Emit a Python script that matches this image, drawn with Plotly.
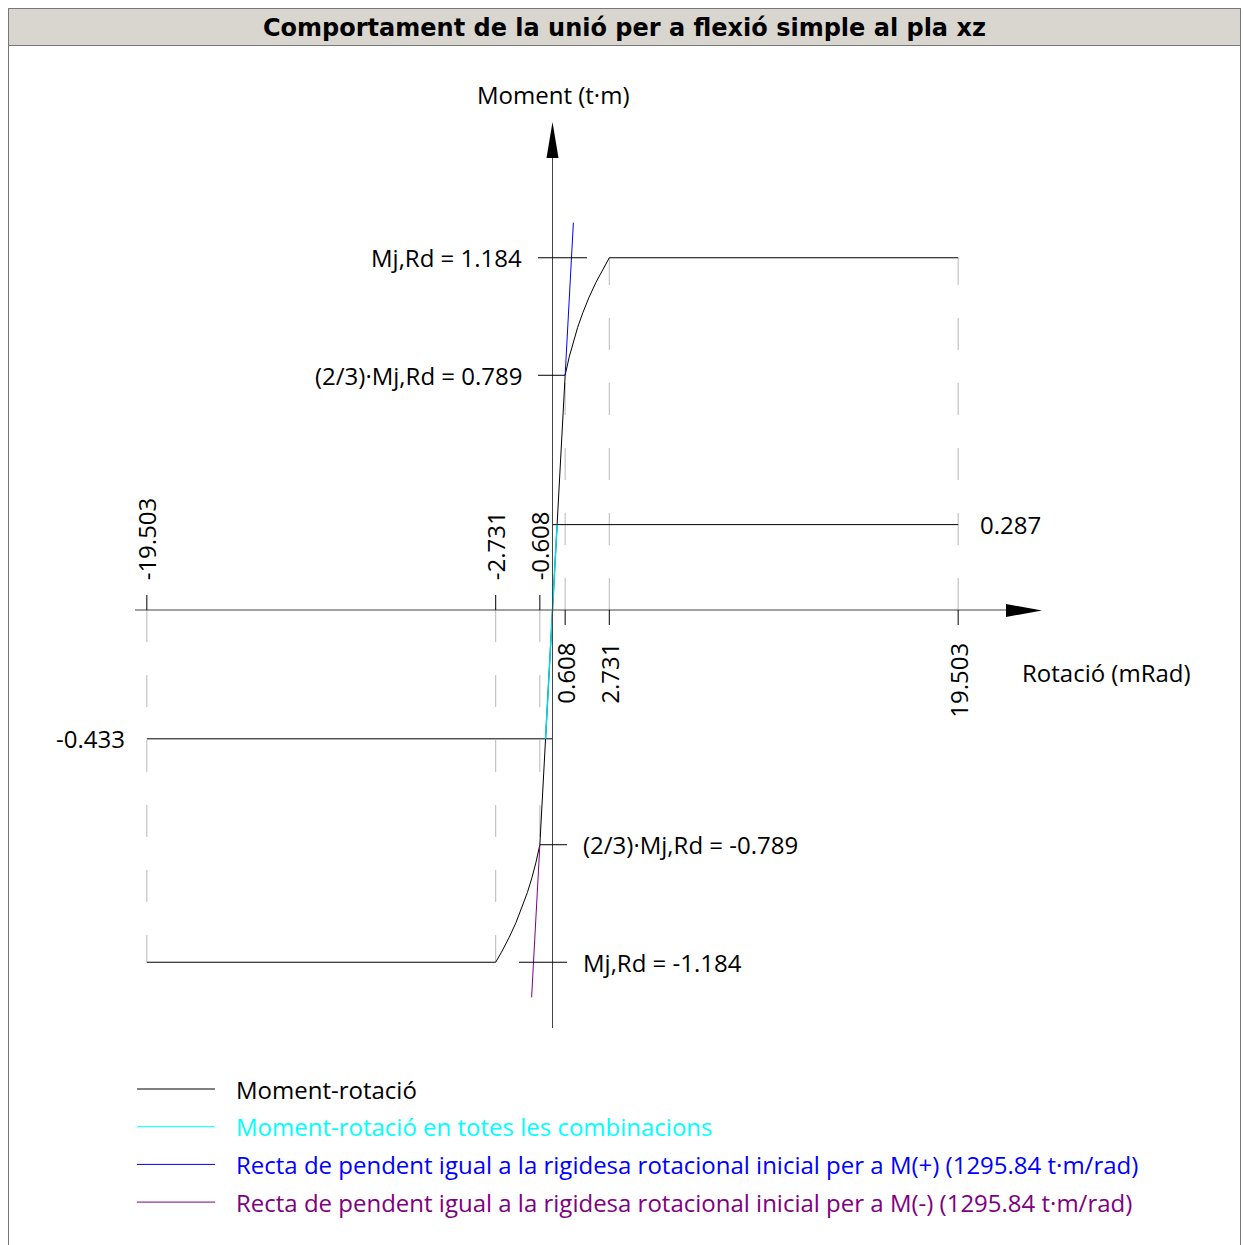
import plotly.graph_objects as go

W, H = 1243, 1245

# data (rotation in mRad, moment in t·m)
mj_rd = 1.184
m_23 = 0.789
phi_23 = 0.608
phi_rd = 2.731
phi_max = 19.503
m_comb_max = 0.287
m_comb_min = -0.433
s_ini = 1295.84

curve_phi = [-19.503, -2.731, -2.452, -2.080, -1.751, -1.462, -1.209, -0.990, -0.801, -0.608,
             0.0, 0.608, 0.801, 0.990, 1.209, 1.462, 1.751, 2.080, 2.452, 2.731, 19.503]
curve_m = [-1.184, -1.184, -1.15, -1.10, -1.05, -1.00, -0.95, -0.90, -0.85, -0.789,
           0.0, 0.789, 0.85, 0.90, 0.95, 1.00, 1.05, 1.10, 1.15, 1.184, 1.184]

comb_phi = [-0.334, 0.0, 0.221]
comb_m = [-0.433, 0.0, 0.287]

kpos_phi = [0.608, 1.004]
kpos_m = [0.789, 1.302]
kneg_phi = [-0.608, -1.004]
kneg_m = [-0.789, -1.302]

xticks = [-19.503, -2.731, -0.608, 0.608, 2.731, 19.503]
xtick_m = [-1.184, -1.184, -0.789, 0.789, 1.184, 1.184]

legend_names = [
    "Moment-rotació",
    "Moment-rotació en totes les combinacions",
    "Recta de pendent igual a la rigidesa rotacional inicial per a M(+) (%.2f t·m/rad)" % s_ini,
    "Recta de pendent igual a la rigidesa rotacional inicial per a M(-) (%.2f t·m/rad)" % s_ini,
]
legend_colors = ["#000000", "#00ffff", "#0000ff", "#800080"]

# pixel <-> data mapping
X0, KX = 552.5, 20.8
Y0, KY = 610.0, 297.5
xr = [-X0 / KX, (W - X0) / KX]
yr = [-(H - Y0) / KY, Y0 / KY]


def dx(p):
    return (p - X0) / KX


def dy(p):
    return (Y0 - p) / KY


def px(p):
    return p / W


def py(p):
    return 1 - p / H


FONT = "Open Sans"
FS = 24
fig = go.Figure()

# dashed guides from axis to curve
for t, m in zip(xticks, xtick_m):
    fig.add_trace(go.Scatter(x=[t, t], y=[0, m], mode="lines",
                             line=dict(color="#b8b8b8", width=1, dash="32px,33px"),
                             hoverinfo="skip"))

# combination level lines
fig.add_trace(go.Scatter(x=[0, phi_max], y=[m_comb_max, m_comb_max], mode="lines",
                         line=dict(color="black", width=1), hoverinfo="skip"))
fig.add_trace(go.Scatter(x=[-phi_max, 0], y=[m_comb_min, m_comb_min], mode="lines",
                         line=dict(color="black", width=1), hoverinfo="skip"))

fig.add_trace(go.Scatter(x=curve_phi, y=curve_m, mode="lines",
                         line=dict(color="black", width=1), name=legend_names[0]))
fig.add_trace(go.Scatter(x=comb_phi, y=comb_m, mode="lines",
                         line=dict(color="#00d8e8", width=1.5), name=legend_names[1]))
fig.add_trace(go.Scatter(x=kpos_phi, y=kpos_m, mode="lines",
                         line=dict(color="#0000ff", width=1), name=legend_names[2]))
fig.add_trace(go.Scatter(x=kneg_phi, y=kneg_m, mode="lines",
                         line=dict(color="#800080", width=1), name=legend_names[3]))

shapes = []
axc = "#444444"
# axes
shapes.append(dict(type="line", x0=dx(135), x1=dx(1008), y0=0, y1=0, line=dict(color=axc, width=1)))
shapes.append(dict(type="line", x0=0, x1=0, y0=dy(1028), y1=dy(158), line=dict(color=axc, width=1)))
shapes.append(dict(type="path", fillcolor="black", line=dict(width=0),
                   path="M %f %f L %f %f L %f %f Z" % (dx(1006), dy(604), dx(1042), dy(610.5), dx(1006), dy(617))))
shapes.append(dict(type="path", fillcolor="black", line=dict(width=0),
                   path="M %f %f L %f %f L %f %f Z" % (dx(546.5), dy(158), dx(552.5), dy(122), dx(558.5), dy(158))))

# x ticks
for t in xticks:
    if t < 0:
        shapes.append(dict(type="line", x0=t, x1=t, y0=0, y1=dy(595), line=dict(color="black", width=1)))
    else:
        shapes.append(dict(type="line", x0=t, x1=t, y0=0, y1=dy(625), line=dict(color="black", width=1)))

# y ticks
shapes.append(dict(type="line", x0=dx(538), x1=dx(587), y0=mj_rd, y1=mj_rd, line=dict(color="black", width=1)))
shapes.append(dict(type="line", x0=dx(538), x1=phi_23, y0=m_23, y1=m_23, line=dict(color="black", width=1)))
shapes.append(dict(type="line", x0=-phi_23, x1=dx(567), y0=-m_23, y1=-m_23, line=dict(color="black", width=1)))
shapes.append(dict(type="line", x0=dx(519), x1=dx(567), y0=-mj_rd, y1=-mj_rd, line=dict(color="black", width=1)))

# frame and title bar
shapes.append(dict(type="rect", xref="paper", yref="paper", x0=px(8.5), x1=px(1240.5), y0=py(H + 5), y1=py(8.5),
                   line=dict(color="#777777", width=1), fillcolor="rgba(0,0,0,0)", layer="below"))
shapes.append(dict(type="rect", xref="paper", yref="paper", x0=px(8.5), x1=px(1240.5), y0=py(45.5), y1=py(8.5),
                   line=dict(color="#777777", width=1), fillcolor="#d9d6d0", layer="below"))

# legend lines
for i, c in enumerate(legend_colors):
    yy = 1089 + i * 37.7
    shapes.append(dict(type="line", xref="paper", yref="paper", x0=px(137), x1=px(215), y0=py(yy), y1=py(yy),
                       line=dict(color=c, width=1)))

ann = []


def txt(x, y, s, xa="center", ya="middle", color="black", angle=0, size=FS, family=FONT, ref="data"):
    ann.append(dict(x=x, y=y, text=s, showarrow=False, xanchor=xa, yanchor=ya, textangle=angle,
                    xref="x" if ref == "data" else "paper", yref="y" if ref == "data" else "paper",
                    font=dict(color=color, size=size, family=family)))


txt(px(624), py(28), "<b>Comportament de la unió per a flexió simple al pla xz</b>",
    size=24, family="DejaVu Sans", ref="paper")

txt(0, dy(94), "Moment (t·m)")
txt(dx(1020), dy(672), "Rotació (mRad)", xa="left")

txt(dx(524), mj_rd, "Mj,Rd = %.3f" % mj_rd, xa="right")
txt(dx(524), m_23, "(2/3)·Mj,Rd = %.3f" % m_23, xa="right")
txt(dx(581), -m_23, "(2/3)·Mj,Rd = %.3f" % -m_23, xa="left")
txt(dx(581), -mj_rd, "Mj,Rd = %.3f" % -mj_rd, xa="left")
txt(dx(978), m_comb_max, "%.3f" % m_comb_max, xa="left")
txt(dx(127), m_comb_min, "%.3f" % m_comb_min, xa="right")

for t in xticks:
    if t < 0:
        txt(t, dy(582), "%.3f" % t, ya="bottom", angle=-90)
    else:
        txt(t, dy(641), "%.3f" % t, ya="top", angle=-90)

for i, (n, c) in enumerate(zip(legend_names, legend_colors)):
    txt(px(234), py(1089 + i * 37.7), n, xa="left", color=c, ref="paper")

fig.update_layout(
    width=W, height=H, margin=dict(l=0, r=0, t=0, b=0),
    paper_bgcolor="white", plot_bgcolor="white", showlegend=False,
    xaxis=dict(range=xr, visible=False, fixedrange=True),
    yaxis=dict(range=yr, visible=False, fixedrange=True),
    shapes=shapes, annotations=ann,
)
fig.write_html("out.html", config={"displayModeBar": False},
               post_script="document.body.style.margin='0px';")
